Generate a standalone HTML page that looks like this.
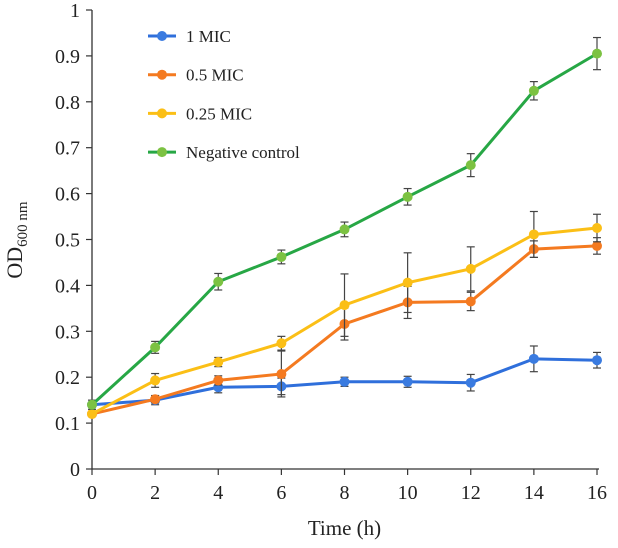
<!DOCTYPE html>
<html><head><meta charset="utf-8"><style>
body{margin:0;background:#fff;}
svg text{font-family:"Liberation Serif",serif;fill:#222;}
</style></head><body>
<svg id="chart" width="618" height="543" viewBox="0 0 618 543"></svg>
<script>
const times=[0,2,4,6,8,10,12,14,16];
const xTicks=[0,2,4,6,8,10,12,14,16];
const yTicks=[0,0.1,0.2,0.3,0.4,0.5,0.6,0.7,0.8,0.9,1];
const yTickLabels=["0","0.1","0.2","0.3","0.4","0.5","0.6","0.7","0.8","0.9","1"];
const seriesNames=["1 MIC","0.5 MIC","0.25 MIC","Negative control"];
const mic1=[0.14,0.15,0.178,0.18,0.19,0.19,0.188,0.24,0.237];
const mic1Err=[0.005,0.01,0.012,0.018,0.01,0.012,0.018,0.028,0.017];
const mic05=[0.12,0.152,0.193,0.207,0.316,0.363,0.365,0.479,0.486];
const mic05Err=[0.005,0.008,0.01,0.05,0.035,0.035,0.02,0.018,0.018];
const mic025=[0.12,0.193,0.233,0.274,0.357,0.406,0.436,0.511,0.525];
const mic025Err=[0.005,0.015,0.01,0.015,0.068,0.065,0.048,0.05,0.03];
const negCtrl=[0.14,0.265,0.408,0.462,0.522,0.593,0.662,0.824,0.905];
const negCtrlErr=[0.01,0.013,0.018,0.015,0.016,0.018,0.025,0.02,0.035];

const svg=document.getElementById('chart');
const NS='http://www.w3.org/2000/svg';
const X0=92,X1=597,Y0=469,Y1=10;
const xs=v=>X0+(v-0)/(16-0)*(X1-X0);
const ys=v=>Y0-(v-0)/(1-0)*(Y0-Y1);
function mk(t,a,p){const e=document.createElementNS(NS,t);for(const k in a)e.setAttribute(k,a[k]);(p||svg).appendChild(e);return e;}

const axes=mk('g',{});


mk('line',{x1:X0,y1:Y1,x2:X0,y2:Y0,stroke:'#333','stroke-width':1.3},axes);
mk('line',{x1:X0,y1:Y0,x2:X1+2,y2:Y0,stroke:'#333','stroke-width':1.3},axes);
yTicks.forEach((v,i)=>{
  mk('line',{x1:X0-6,y1:ys(v),x2:X0,y2:ys(v),stroke:'#333','stroke-width':1.2},axes);
  const t=mk('text',{x:X0-12,y:ys(v)+7,'text-anchor':'end','font-size':20},axes);
  t.textContent=yTickLabels[i];
  
  
});
xTicks.forEach(v=>{
  mk('line',{x1:xs(v),y1:Y0,x2:xs(v),y2:Y0+6,stroke:'#333','stroke-width':1.2},axes);
  const t=mk('text',{x:xs(v),y:Y0+30,'text-anchor':'middle','font-size':20},axes);
  t.textContent=v;
  
  
});
const xt=mk('text',{x:(X0+X1)/2,y:Y0+66,'text-anchor':'middle','font-size':21});
xt.textContent='Time (h)';


const yt=mk('text',{x:0,y:0,'text-anchor':'middle','font-size':22,transform:'translate(22,240) rotate(-90)'});
yt.innerHTML='OD<tspan font-size="15" dy="5">600 nm</tspan>';



const series=[
 {vals:mic1,err:mic1Err,line:'#2f6fdb',mark:'#3a7be0'},
 {vals:mic05,err:mic05Err,line:'#f47a20',mark:'#f47a20'},
 {vals:mic025,err:mic025Err,line:'#fbbf16',mark:'#fbbf16'},
 {vals:negCtrl,err:negCtrlErr,line:'#27a745',mark:'#7cc242'}
];
series.forEach((s,si)=>{
  const g=mk('g',{});
  
  
  s.vals.forEach((v,i)=>{
    const x=xs(times[i]),a=ys(v+s.err[i]),b=ys(v-s.err[i]);
    mk('line',{x1:x,y1:a,x2:x,y2:b,stroke:'#444','stroke-width':1.2},g);
    mk('line',{x1:x-4,y1:a,x2:x+4,y2:a,stroke:'#444','stroke-width':1.2},g);
    mk('line',{x1:x-4,y1:b,x2:x+4,y2:b,stroke:'#444','stroke-width':1.2},g);
  });
  const pts=s.vals.map((v,i)=>xs(times[i])+','+ys(v)).join(' ');
  const pl=mk('polyline',{points:pts,fill:'none',stroke:s.line,'stroke-width':3},g);
  
  
  s.vals.forEach((v,i)=>{
    const c=mk('circle',{cx:xs(times[i]),cy:ys(v),r:5,fill:s.mark},g);
    
    
  });
  const ly=36+si*38.7;
  const lg=mk('g',{});
  
  
  mk('line',{x1:148,y1:ly,x2:176,y2:ly,stroke:s.line,'stroke-width':3},lg);
  mk('circle',{cx:162,cy:ly,r:5,fill:s.mark},lg);
  const t=mk('text',{x:186,y:ly+6,'font-size':17},lg);
  t.textContent=seriesNames[si];
});
</script>
</body></html>
